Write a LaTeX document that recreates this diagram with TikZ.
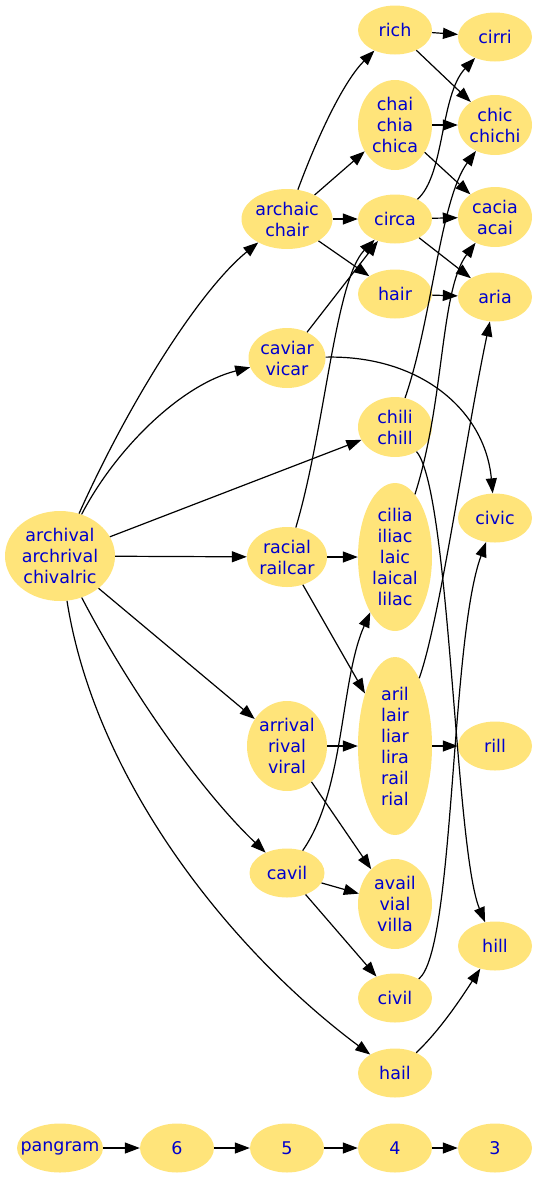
\documentclass[tikz,border=0pt]{standalone}
\usepackage{fontspec}
\setmainfont{DejaVu Sans}
\usetikzlibrary{shapes.geometric,arrows.meta}
\definecolor{wordfill}{RGB}{255,228,122}
\definecolor{wordblue}{RGB}{0,0,205}

\begin{document}
\begin{tikzpicture}[x=1pt, y=-1pt,
    word/.style={ellipse, fill=wordfill, text=wordblue, font=\fontsize{17.5}{21}\selectfont, align=center, inner xsep=-20pt, inner ysep=-12pt, minimum width=74pt, minimum height=49pt},
    arrow/.style={-{Triangle[length=15pt, width=11pt]}, line width=1.2pt},
]
\useasboundingbox (0,0) rectangle (538,1179);

% first column
\node[word, minimum width=110pt, minimum height=90pt] (archival) at (60, 556) {archival\\archrival\\chivalric};

% second column
\node[word, minimum width=91pt, minimum height=60pt] (archaic) at (287, 219) {archaic\\chair};
\node[word, minimum width=77pt, minimum height=60pt] (caviar) at (287, 358) {caviar\\vicar};
\node[word, minimum width=80pt, minimum height=60pt] (racial) at (287, 557) {racial\\railcar};
\node[word, minimum width=80pt, minimum height=90pt] (arrival) at (287, 746) {arrival\\rival\\viral};
\node[word, minimum width=75pt] (cavil) at (287, 873) {cavil};

% third column
\node[word] (rich) at (395, 30) {rich};
\node[word, minimum height=90pt] (chai) at (395, 125) {chai\\chia\\chica};
\node[word] (circa) at (395, 219) {circa};
\node[word] (hair) at (395, 294) {hair};
\node[word, minimum height=60pt] (chili) at (395, 427) {chili\\chill};
\node[word, minimum height=148pt] (cilia) at (395, 557) {cilia\\iliac\\laic\\laical\\lilac};
\node[word, minimum height=178pt] (aril) at (395, 746) {aril\\lair\\liar\\lira\\rail\\rial};
\node[word, minimum height=90pt] (avail) at (395, 904) {avail\\vial\\villa};
\node[word] (civil) at (395, 998) {civil};
\node[word] (hail) at (395, 1073) {hail};

% fourth column
\node[word] (cirri) at (495, 37) {cirri};
\node[word, minimum height=60pt] (chic) at (495, 125) {chic\\chichi};
\node[word, minimum height=60pt] (cacia) at (495, 217) {cacia\\acai};
\node[word] (aria) at (495, 297) {aria};
\node[word] (civic) at (495, 518) {civic};
\node[word] (rill) at (495, 746) {rill};
\node[word] (hill) at (495, 946) {hill};

% legend row
\node[word, minimum width=86pt] (pangram) at (60, 1148) {pangram};
\node[word] (n6) at (177, 1148) {6};
\node[word] (n5) at (287, 1148) {5};
\node[word] (n4) at (395, 1148) {4};
\node[word] (n3) at (495, 1148) {3};

% from archival
\draw[arrow] (archival) .. controls (130,400) and (200,290) .. (archaic);
\draw[arrow] (archival) .. controls (115,450) and (180,385) .. (caviar);
\draw[arrow] (archival) -- (chili);
\draw[arrow] (archival) -- (racial);
\draw[arrow] (archival) -- (arrival);
\draw[arrow] (archival) .. controls (130,690) and (200,790) .. (cavil);
\draw[arrow] (archival) .. controls (95,780) and (230,950) .. (hail);

% second column out
\draw[arrow] (archaic) .. controls (320,130) and (345,80) .. (rich);
\draw[arrow] (archaic) -- (chai);
\draw[arrow] (archaic) -- (circa);
\draw[arrow] (archaic) -- (hair);
\draw[arrow] (caviar) -- (circa);
\draw[arrow] (caviar) .. controls (420,355) and (485,410) .. (civic);
\draw[arrow] (racial) .. controls (325,430) and (335,280) .. (circa);
\draw[arrow] (racial) -- (cilia);
\draw[arrow] (racial) -- (aril);
\draw[arrow] (arrival) -- (aril);
\draw[arrow] (arrival) -- (avail);
\draw[arrow] (cavil) .. controls (345,790) and (340,680) .. (cilia);
\draw[arrow] (cavil) -- (avail);
\draw[arrow] (cavil) -- (civil);

% third column out
\draw[arrow] (rich) -- (cirri);
\draw[arrow] (rich) -- (chic);
\draw[arrow] (chai) -- (chic);
\draw[arrow] (chai) -- (cacia);
\draw[arrow] (circa) .. controls (445,175) and (440,95) .. (cirri);
\draw[arrow] (circa) -- (cacia);
\draw[arrow] (circa) -- (aria);
\draw[arrow] (hair) -- (aria);
\draw[arrow] (chili) .. controls (432,320) and (440,200) .. (chic);
\draw[arrow] (chili) .. controls (450,490) and (455,850) .. (hill);
\draw[arrow] (cilia) .. controls (445,400) and (440,290) .. (cacia);
\draw[arrow] (aril) .. controls (440,620) and (465,440) .. (aria);
\draw[arrow] (aril) -- (rill);
\draw[arrow] (civil) .. controls (455,950) and (450,640) .. (civic);
\draw[arrow] (hail) .. controls (440,1030) and (460,1000) .. (hill);

% legend chain
\draw[arrow] (pangram) -- (n6);
\draw[arrow] (n6) -- (n5);
\draw[arrow] (n5) -- (n4);
\draw[arrow] (n4) -- (n3);
\end{tikzpicture}
\end{document}
